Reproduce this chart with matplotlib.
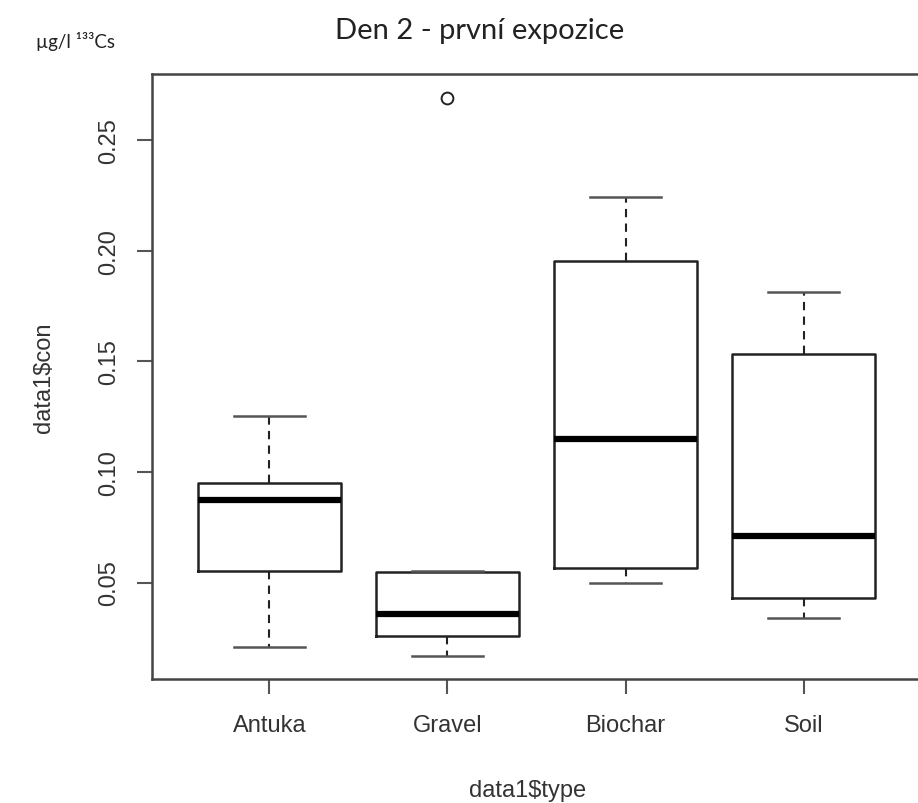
import matplotlib
matplotlib.use("Agg")
import matplotlib.pyplot as plt

# values (data1$con by data1$type)
categories = ["Antuka", "Gravel", "Biochar", "Soil"]
whisker_low = [0.0210, 0.0168, 0.0498, 0.0338]
q1 = [0.0553, 0.0258, 0.0564, 0.0429]
median = [0.0874, 0.0358, 0.1149, 0.0712]
q3 = [0.0948, 0.0547, 0.1955, 0.1533]
whisker_high = [0.1251, 0.0553, 0.2241, 0.1812]
outliers = [[], [0.2689], [], []]
y_ticks = [0.05, 0.10, 0.15, 0.20, 0.25]
y_tick_labels = ["0.05", "0.10", "0.15", "0.20", "0.25"]

stats = []
for i, name in enumerate(categories):
    stats.append(dict(label=name, whislo=whisker_low[i], q1=q1[i], med=median[i],
                      q3=q3[i], whishi=whisker_high[i], fliers=outliers[i]))

fig = plt.figure(figsize=(9.18, 8.04), dpi=100)
# right spine falls just outside the picture, as in the reference
ax = fig.add_axes([152/918, 124/804, (921-152)/918, (680-75)/804])

ink = "#222222"
ax.bxp(stats, positions=[1, 2, 3, 4], widths=0.8, capwidths=0.4,
       boxprops=dict(color=ink, linewidth=1.8),
       medianprops=dict(color="black", linewidth=4.5),
       whiskerprops=dict(color=ink, linewidth=1.5, linestyle=(0, (4, 3))),
       capprops=dict(color="#555555", linewidth=1.8),
       flierprops=dict(marker="o", markersize=8.5, markerfacecolor="none",
                       markeredgecolor=ink, markeredgewidth=1.4))

ax.set_xlim(0.34, 4.66)
ax.set_ylim(0.0064, 0.2798)
ax.set_yticks(y_ticks)
ax.set_yticklabels(y_tick_labels, rotation=90, va="center")
ax.set_xticks([1, 2, 3, 4])
ax.set_xticklabels(categories)

font = "Liberation Sans"
for lab in ax.get_xticklabels() + ax.get_yticklabels():
    lab.set_family(font)
    lab.set_fontsize(17)
    lab.set_color("#333333")
ax.tick_params(axis="both", length=11, width=1.5, color="#555555", pad=14)
ax.tick_params(axis="y", pad=12)

for s in ax.spines.values():
    s.set_color("#444444")
    s.set_linewidth(1.8)

ax.set_xlabel("data1$type", family=font, fontsize=17, color="#333333")
ax.xaxis.set_label_coords(0.488, -0.165)
ax.set_ylabel("data1$con", family=font, fontsize=17, color="#333333")
ax.yaxis.set_label_coords(-0.126, 0.5)

fig.text(480/918, 1 - 39/804, "Den 2 - první expozice", family="Lato",
         fontsize=21, color="#222222", ha="center", va="baseline")
fig.text(36/918, 1 - 48/804, "µg/l ¹³³Cs", family="Lato",
         fontsize=13.5, color="#222222", ha="left", va="baseline")

fig.savefig("out.png", dpi=100)
